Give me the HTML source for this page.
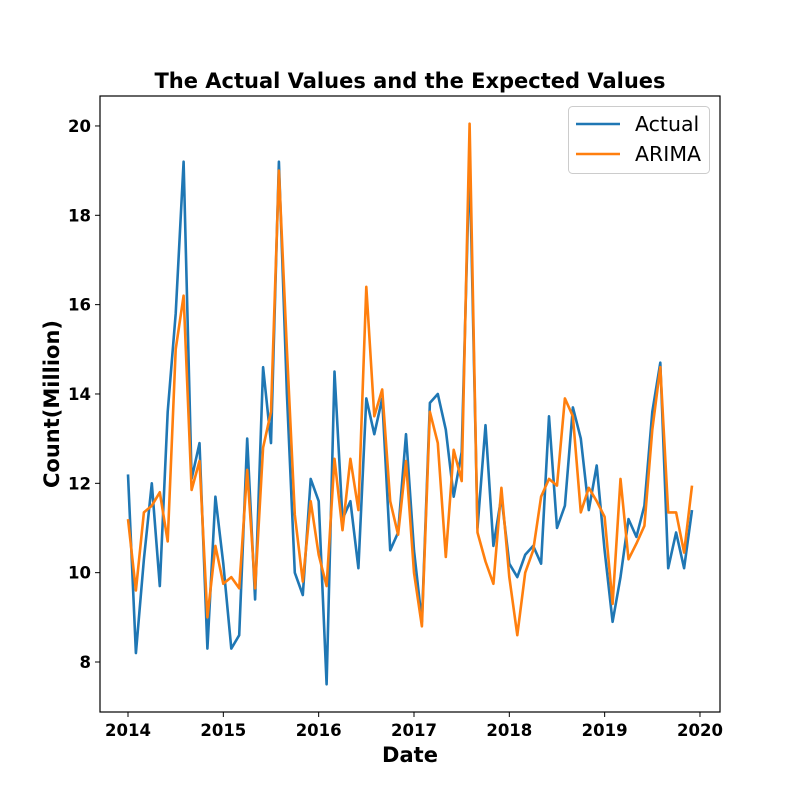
<!DOCTYPE html>
<html><head><meta charset="utf-8"><style>
body{margin:0;background:#fff}
text{font-family:"DejaVu Sans","Liberation Sans",sans-serif}
</style></head><body>
<svg id="chart" width="800" height="800" xmlns="http://www.w3.org/2000/svg">
<rect width="800" height="800" fill="#fff"/>
<text x="410" y="88" text-anchor="middle" font-size="21" font-weight="bold">The Actual Values and the Expected Values</text>
<g id="plot"></g>
<text x="410" y="762" text-anchor="middle" font-size="21" font-weight="bold">Date</text>
<text transform="translate(59,404) rotate(-90)" text-anchor="middle" font-size="21" font-weight="bold">Count(Million)</text>
<rect x="100" y="96" width="620" height="616" fill="none" stroke="#000" stroke-width="1.2"/>
<g>
<rect x="568.5" y="106.5" width="141" height="67" rx="4" fill="#fff" fill-opacity="0.8" stroke="#ccc"/>
<line x1="576" y1="124" x2="620" y2="124" stroke="#1f77b4" stroke-width="2.6"/>
<text x="635" y="131" font-size="20.5">Actual</text>
<line x1="576" y1="154" x2="620" y2="154" stroke="#ff7f0e" stroke-width="2.6"/>
<text x="635" y="161" font-size="20.5">ARIMA</text>
</g>
</svg>
<script>
const xTickLabels=["2014","2015","2016","2017","2018","2019","2020"];
const yTickLabels=[8,10,12,14,16,18,20];
const actual=[12.2,8.2,10.3,12.0,9.7,13.6,15.8,19.2,12.1,12.9,8.3,11.7,
10.2,8.3,8.6,13.0,9.4,14.6,12.9,19.2,14.0,10.0,9.5,12.1,
11.6,7.5,14.5,11.2,11.6,10.1,13.9,13.1,13.9,10.5,10.9,13.1,
10.5,8.9,13.8,14.0,13.2,11.7,12.7,19.3,11.0,13.3,10.6,11.7,
10.2,9.9,10.4,10.6,10.2,13.5,11.0,11.5,13.7,13.0,11.4,12.4,
10.5,8.9,9.9,11.2,10.8,11.5,13.6,14.7,10.1,10.9,10.1,11.4];
const arima=[11.2,9.6,11.35,11.5,11.8,10.7,15.0,16.2,11.85,12.5,9.0,10.6,
9.75,9.9,9.65,12.3,9.65,12.8,13.6,19.0,15.0,11.3,9.8,11.6,
10.4,9.7,12.55,10.95,12.55,11.4,16.4,13.5,14.1,11.6,10.85,12.5,
10.0,8.8,13.6,12.9,10.35,12.75,12.05,20.05,10.9,10.25,9.75,11.9,
9.9,8.6,10.0,10.5,11.7,12.1,11.95,13.9,13.5,11.35,11.9,11.6,
11.25,9.3,12.1,10.3,10.65,11.05,13.2,14.6,11.35,11.35,10.45,11.95];
const startYear=2014;
const xs=t=>128+(t-2014)*95.33;
const ys=v=>662-(v-8)*44.67;
const NS="http://www.w3.org/2000/svg";
const g=document.getElementById('plot');
function mk(tag,attrs){const e=document.createElementNS(NS,tag);for(const k in attrs)e.setAttribute(k,attrs[k]);g.appendChild(e);return e;}
xTickLabels.forEach(l=>{const x=xs(+l);
 const t=mk('line',{x1:x,x2:x,y1:712,y2:717,stroke:'#000'});
 
 
 const tx=mk('text',{x:x,y:736,'text-anchor':'middle','font-size':16.5,'font-weight':'bold'});tx.textContent=l;
 
 });
yTickLabels.forEach(v=>{const y=ys(v);
 const t=mk('line',{x1:95,x2:100,y1:y,y2:y,stroke:'#000'});
 
 
 const tx=mk('text',{x:91,y:y+6,'text-anchor':'end','font-size':16.5,'font-weight':'bold'});tx.textContent=v;
 
 });
function line(arr,color,name){
 const pts=arr.map((v,i)=>xs(startYear+i/12).toFixed(1)+','+ys(v).toFixed(1)).join(' ');
 const p=mk('polyline',{points:pts,fill:'none',stroke:color,'stroke-width':2.6,'stroke-linejoin':'round'});
 
 
}
line(actual,'#1f77b4','actual-line');
line(arima,'#ff7f0e','arima-line');
</script>
</body></html>
